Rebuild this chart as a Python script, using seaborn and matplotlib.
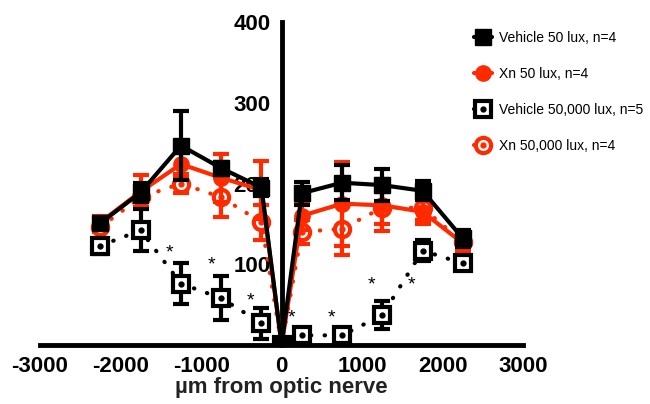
import numpy as np
import pandas as pd
import seaborn as sns
import matplotlib.pyplot as plt
from matplotlib.lines import Line2D

# positions (µm from optic nerve)
pos = [-2250, -1750, -1250, -750, -250, 0, 250, 750, 1250, 1750, 2250]

# series means and SEM
veh50 = [151, 189, 247, 219, 195, 0, 188, 201, 198, 191, 132]
veh50_err = [6, 12, 43, 8, 10, 0, 14, 22, 20, 12, 10]
xn50 = [152, 190, 224, 207, 192, 0, 160, 175, 173, 165, 126]
xn50_err = [8, 20, 15, 30, 36, 0, 18, 52, 32, 15, 10]
veh50k = [123, 142, 76, 58, 27, 0, 12, 12, 37, 117, 101]
veh50k_err = [10, 26, 25, 27, 19, 0, 5, 5, 17, 13, 5]
xn50k = [146, 183, 200, 183, 152, 0, 140, 144, 170, 170, 127]
xn50k_err = [6, 12, 12, 25, 22, 0, 15, 33, 20, 15, 8]

# significance asterisks
star_x = [-1390, -870, -385, 124, 621, 1118, 1615]
star_y = [114, 99, 54, 34, 34, 74, 74]

labels = ['Vehicle 50 lux, n=4', 'Xn 50 lux, n=4',
          'Vehicle 50,000 lux, n=5', 'Xn 50,000 lux, n=4']

sns.set_style('white')
plt.rcParams['font.family'] = ['Liberation Sans', 'DejaVu Sans']
plt.rcParams['axes.unicode_minus'] = False

red = '#ff2a00'
fig = plt.figure(figsize=(6.5, 4.04), dpi=100)
ax = fig.add_axes([0.0615, 0.146, 0.7435, 0.7995])

series = [
    (xn50k, xn50k_err, red, 'dotted', 'o', True, 3),
    (xn50, xn50_err, red, 'solid', 'o', False, 4),
    (veh50k, veh50k_err, 'black', 'dotted', 's', True, 5),
    (veh50, veh50_err, 'black', 'solid', 's', False, 6),
]
handles = {}
for (vals, err, col, ls, mk, hollow, z), lab in zip(series, [labels[3], labels[1], labels[2], labels[0]]):
    df = pd.DataFrame({'x': pos, 'y': vals})
    ax.errorbar(pos, vals, yerr=err, fmt='none', ecolor=col, elinewidth=3,
                capsize=6, capthick=3, zorder=z)
    kw = dict(color=col, lw=3, marker=mk, markersize=11, zorder=z + 0.5,
              markeredgecolor=col, markeredgewidth=3 if hollow else 1)
    if hollow:
        kw.update(markerfacecolor='white', linestyle=(0, (0.1, 3.2)),
                  dash_capstyle='round')
    else:
        kw.update(markerfacecolor=col)
    sns.lineplot(data=df, x='x', y='y', ax=ax, errorbar=None, **kw)
    h = [Line2D([], [], **{k: v for k, v in kw.items() if k not in ('zorder',)})]
    if hollow:
        ax.plot(pos, vals, ls='none', marker='o', markersize=3.5, color=col,
                zorder=z + 0.6)
        h.append(Line2D([], [], ls='none', marker='o', markersize=3.5, color=col))
    handles[lab] = tuple(h)

for sx, sy in zip(star_x, star_y):
    ax.text(sx, sy, '*', ha='center', va='center', fontsize=14, zorder=8,
            color='black')

ax.set_xlim(-3000, 3000)
ax.set_ylim(0, 400)
ax.set_xticks(range(-3000, 3001, 1000))
ax.set_xticklabels([str(t) for t in range(-3000, 3001, 1000)])
ax.set_yticks([100, 200, 300, 400])
ax.spines['left'].set_position(('data', 0))
ax.spines['right'].set_visible(False)
ax.spines['top'].set_visible(False)
for s in ['left', 'bottom']:
    ax.spines[s].set_linewidth(3.5)
    ax.spines[s].set_color('black')
ax.tick_params(axis='both', direction='out', length=6, width=3, color='black',
               labelsize=16, pad=2, labelcolor='black')
for t in ax.get_xticklabels() + ax.get_yticklabels():
    t.set_fontweight('bold')
ax.set_xlabel('µm from optic nerve', fontsize=16, fontweight='bold',
              color='#222222', labelpad=0)
ax.set_ylabel('')

ax.legend([handles[l] for l in labels], labels, loc='upper left',
          bbox_to_anchor=(0.71, 0.955), bbox_transform=fig.transFigure,
          frameon=False, fontsize=10, labelspacing=1.58, handlelength=1.3,
          handletextpad=0.5, labelcolor='black')

fig.savefig('out.png', dpi=100)
